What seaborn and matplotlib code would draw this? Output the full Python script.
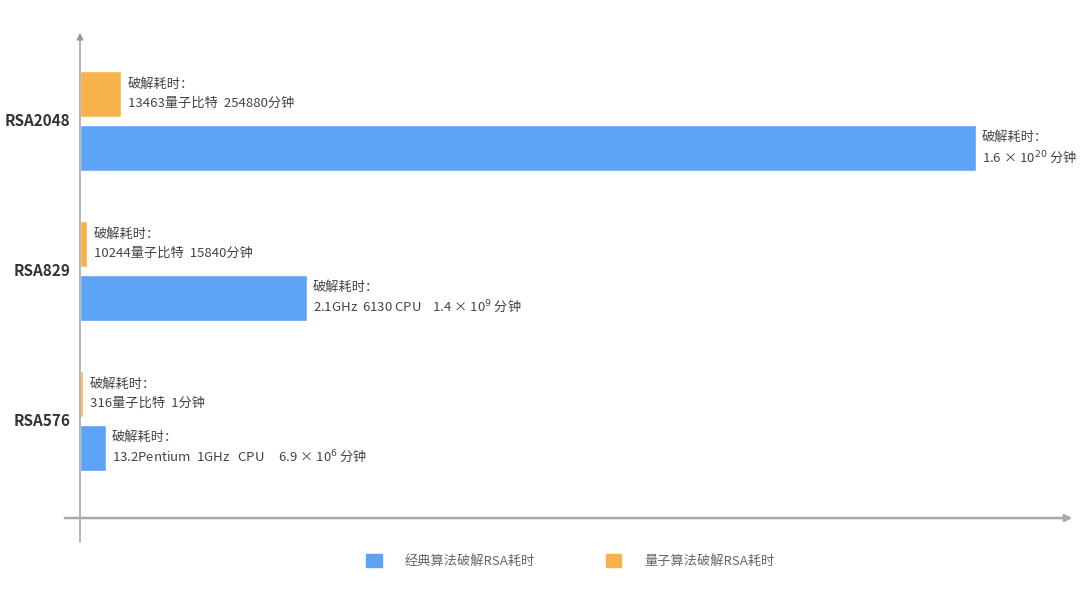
import matplotlib
matplotlib.use("Agg")
import matplotlib.pyplot as plt
import matplotlib.patches as mpatches
import pandas as pd
import seaborn as sns

# 数据（条形长度按原图读取，原图并非线性刻度）
categories = ["RSA2048", "RSA829", "RSA576"]
classical_len = [896, 227, 26]
quantum_len = [41, 6.5, 3]
classical_label = "经典算法破解RSA耗时"
quantum_label = "量子算法破解RSA耗时"
classical_notes = [
    "破解耗时：\n1.6 × 10$^{20}$ 分钟",
    "破解耗时：\n2.1GHz  6130 CPU    1.4 × 10$^{9}$ 分钟",
    "破解耗时：\n13.2Pentium  1GHz   CPU     6.9 × 10$^{6}$ 分钟",
]
quantum_notes = [
    "破解耗时：\n13463量子比特  254880分钟",
    "破解耗时：\n10244量子比特  15840分钟",
    "破解耗时：\n316量子比特  1分钟",
]

blue = "#5ca3f6"
orange = "#f7b24a"

sns.set_theme(style="white")
plt.rcParams["font.family"] = ["Noto Sans CJK SC", "DejaVu Sans"]

df = pd.DataFrame({
    "rsa": categories * 2,
    "len": quantum_len + classical_len,
    "kind": [quantum_label] * 3 + [classical_label] * 3,
})

fig = plt.figure(figsize=(10.8, 6.14), dpi=100)
W, H = 1080, 614
# 坐标轴区域：像素 x 62..1075, y 30..545
ax = fig.add_axes([62 / W, 1 - 545 / H, (1075 - 62) / W, (545 - 30) / H])

sns.barplot(
    data=df, y="rsa", x="len", hue="kind",
    hue_order=[quantum_label, classical_label],
    palette=[orange, blue], orient="h",
    width=0.72, gap=0.15, order=categories, ax=ax, legend=False,
    saturation=1,
)

ax.set_xlim(-18, 995)
ax.set_ylim(2.83, -0.607)
for s in ax.spines.values():
    s.set_visible(False)
ax.set_xticks([])
ax.set_xlabel("")
ax.set_ylabel("")
ax.tick_params(axis="y", length=0, pad=-6)
ax.set_yticks(range(len(categories)))
ax.set_yticklabels(categories, fontsize=11, fontweight="bold", color="#333333",
                   va="center")
for lbl in ax.get_yticklabels():
    lbl.set_y(lbl.get_position()[1])

# 坐标轴箭头
ax.annotate("", xy=(0, -0.607), xytext=(0, 2.83),
            arrowprops=dict(arrowstyle="-|>", color="#999999", lw=1, mutation_scale=10),
            annotation_clip=False)
ax.annotate("", xy=(995, 2.65), xytext=(-18, 2.65),
            arrowprops=dict(arrowstyle="-|>", color="#aaaaaa", lw=1.8, mutation_scale=10),
            annotation_clip=False)

# 标注文字
off = 0.72 / 4
for i in range(len(categories)):
    ax.text(quantum_len[i] + 7, i - off, quantum_notes[i], va="center", ha="left",
            fontsize=9.5, color="#444444", linespacing=1.6)
    ax.text(classical_len[i] + 6, i + off, classical_notes[i], va="center", ha="left",
            fontsize=9.5, color="#444444", linespacing=1.3)

# 图例
handles = [mpatches.Patch(color=blue, label=classical_label),
           mpatches.Patch(color=orange, label=quantum_label)]
fig.legend(handles=handles, loc="center", bbox_to_anchor=(570 / W, 1 - 561 / H),
           ncol=2, frameon=False, fontsize=9.5, labelcolor="#666666",
           handlelength=1.2, handleheight=1.2, columnspacing=5.4, handletextpad=1.7)

fig.savefig("out.png", dpi=100)
